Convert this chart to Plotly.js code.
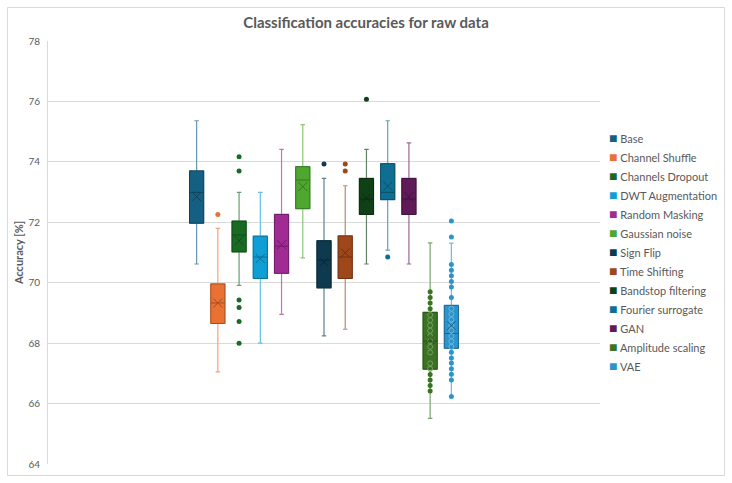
<!DOCTYPE html>
<html>
<head>
<meta charset="utf-8">
<script src="https://cdn.plot.ly/plotly-3.0.1.min.js"></script>
<style>html,body{margin:0;padding:0;background:#fff;}</style>
</head>
<body>
<div id="chart" style="width:732px;height:483px;"></div>
<script>
// Augmentation methods, one box per method
const methods = ["Base", "Channel Shuffle", "Channels Dropout", "DWT Augmentation", "Random Masking",
  "Gaussian noise", "Sign Flip", "Time Shifting", "Bandstop filtering", "Fourier surrogate",
  "GAN", "Amplitude scaling", "VAE"];

// Five-number summaries and means (accuracy, %)
const lowerWhisker = [70.62, 67.05, 69.91, 68.00, 68.95, 70.82, 68.24, 68.46, 70.62, 71.08, 70.62, 65.51, 66.23];
const quartile1    = [71.97, 68.65, 71.02, 70.14, 70.31, 72.45, 69.83, 70.14, 72.26, 72.75, 72.26, 67.14, 67.83];
const medians      = [72.99, 69.33, 71.58, 70.85, 71.21, 73.40, 70.75, 70.85, 72.77, 72.99, 72.77, 68.07, 68.32];
const quartile3    = [73.70, 69.96, 72.04, 71.54, 72.26, 73.84, 71.39, 71.55, 73.45, 73.94, 73.45, 69.02, 69.25];
const upperWhisker = [75.36, 71.80, 72.99, 72.99, 74.41, 75.23, 73.45, 73.21, 74.41, 75.36, 74.63, 71.32, 71.31];
const means        = [72.85, 69.33, 71.39, 70.80, 71.26, 73.18, 70.68, 70.99, 72.80, 73.20, 72.85, 68.12, 68.58];

// Outlying runs beyond the whiskers
const outliers = [
  [], [72.26], [74.17, 73.70, 69.43, 69.18, 68.72, 68.00], [], [], [],
  [73.93], [73.93, 73.70], [76.07], [70.85], [], [], []
];

// Individual runs shown for the last two methods
const amplitudePoints = [69.70, 69.51, 69.33, 69.14, 68.93, 68.76, 68.59, 68.41, 68.23, 68.06,
  67.88, 67.69, 67.33, 67.15, 66.96, 66.78, 66.60, 66.42];
const vaePoints = [72.04, 71.51, 70.60, 70.41, 70.23, 70.04, 69.86, 69.51, 69.14, 68.96, 68.78,
  68.60, 68.42, 68.23, 68.06, 67.88, 67.70, 67.51, 67.34, 67.15, 66.97, 66.78, 66.23];
const pointSets = {"Amplitude scaling": amplitudePoints, "VAE": vaePoints};

const colors = ["#156082", "#E97132", "#196B24", "#0F9ED5", "#A02B93", "#4EA72E",
  "#0D3A4E", "#A0471A", "#0F4016", "#0F6F92", "#601A58", "#3A7322", "#2C94CC"];

function hexToRgb(h) {
  return [parseInt(h.slice(1, 3), 16), parseInt(h.slice(3, 5), 16), parseInt(h.slice(5, 7), 16)];
}
function mix(h, target, t) {
  const c = hexToRgb(h);
  return "rgb(" + c.map(v => Math.round(v + (target - v) * t)).join(",") + ")";
}

const traces = [];
methods.forEach((m, i) => {
  const col = colors[i];
  const light = mix(col, 255, 0.35);
  const dark = mix(col, 0, 0.3);
  // whiskers with caps
  traces.push({
    type: "box", x: [m], q1: [quartile1[i]], median: [medians[i]], q3: [quartile3[i]],
    lowerfence: [lowerWhisker[i]], upperfence: [upperWhisker[i]],
    fillcolor: col, line: {color: light, width: 1.2}, whiskerwidth: 0.32,
    boxpoints: false, showlegend: false, hoverinfo: "skip"
  });
  // box body and median
  traces.push({
    type: "box", x: [m], q1: [quartile1[i]], median: [medians[i]], q3: [quartile3[i]],
    lowerfence: [quartile1[i]], upperfence: [quartile3[i]],
    fillcolor: col, line: {color: dark, width: 1}, whiskerwidth: 0,
    boxpoints: false, showlegend: false, name: m
  });
  // individual runs
  const pts = pointSets[m];
  if (pts) {
    const inside = pts.filter(v => v >= quartile1[i] && v <= quartile3[i]);
    const outside = pts.filter(v => v < quartile1[i] || v > quartile3[i]);
    traces.push({
      type: "scatter", mode: "markers", x: inside.map(() => m), y: inside,
      marker: {symbol: "circle-open", size: 5, color: mix(col, 255, 0.3), line: {width: 1}},
      showlegend: false, hoverinfo: "y"
    });
    traces.push({
      type: "scatter", mode: "markers", x: outside.map(() => m), y: outside,
      marker: {symbol: "circle", size: 5, color: col}, showlegend: false, hoverinfo: "y"
    });
  }
  if (outliers[i].length) {
    traces.push({
      type: "scatter", mode: "markers", x: outliers[i].map(() => m), y: outliers[i],
      marker: {symbol: "circle", size: 5, color: col}, showlegend: false, hoverinfo: "y"
    });
  }
  // mean marker
  traces.push({
    type: "scatter", mode: "markers", x: [m], y: [means[i]],
    marker: {symbol: "x-thin-open", size: 9, color: dark, line: {width: 1, color: dark}},
    showlegend: false, hoverinfo: "y"
  });
  // legend entry: coloured square key followed by the method name
  traces.push({
    type: "scatter", mode: "markers", x: [null], y: [null],
    name: '<span style="color:' + col + ';font-size:14px">\u25A0</span> ' + m,
    marker: {symbol: "square", size: 1, color: "rgba(0,0,0,0)"}, showlegend: true
  });
});

const W = 732, H = 483, L = 48, R = 132, T = 41, B = 19;
const pw = W - L - R, ph = H - T - B;
const px = v => (v - L) / pw;
const py = v => (H - B - v) / ph;

const layout = {
  width: W, height: H,
  margin: {l: L, r: R, t: T, b: B, autoexpand: false},
  paper_bgcolor: "#ffffff", plot_bgcolor: "#ffffff",
  font: {family: "Lato, sans-serif", color: "#595959"},
  title: {
    text: "<b>Classification accuracies for raw data</b>",
    font: {size: 15, color: "#595959", family: "Lato, sans-serif"},
    x: 0.5, xanchor: "center", y: 1 - 23 / H, yanchor: "middle"
  },
  boxmode: "overlay", boxgap: 0.05,
  xaxis: {
    type: "category", categoryorder: "array", categoryarray: methods,
    range: [-7, 19], showticklabels: false, showgrid: false, zeroline: false, showline: false, ticks: ""
  },
  yaxis: {
    range: [64, 78], dtick: 2, tick0: 64, showgrid: true, gridcolor: "#d9d9d9", gridwidth: 1,
    zeroline: false, showline: true, linecolor: "#d9d9d9", linewidth: 1, ticks: "",
    tickfont: {size: 10, color: "#595959"}, ticklabelstandoff: 5, automargin: false,
    title: {text: "<b>Accuracy [%]</b>", font: {size: 11, color: "#595959"}, standoff: 2}
  },
  legend: {
    x: px(569), xanchor: "left", y: 0.5, yanchor: "middle",
    font: {size: 11, color: "#595959"}, bgcolor: "rgba(0,0,0,0)", itemclick: false
  },
  shapes: [{
    type: "rect", xref: "paper", yref: "paper",
    x0: px(7.5), x1: px(724.5), y0: py(475.5), y1: py(7.5),
    line: {color: "#d9d9d9", width: 1}, fillcolor: "rgba(0,0,0,0)", layer: "below"
  }]
};

Plotly.newPlot("chart", traces, layout, {displayModeBar: false, staticPlot: true});
</script>
</body>
</html>
